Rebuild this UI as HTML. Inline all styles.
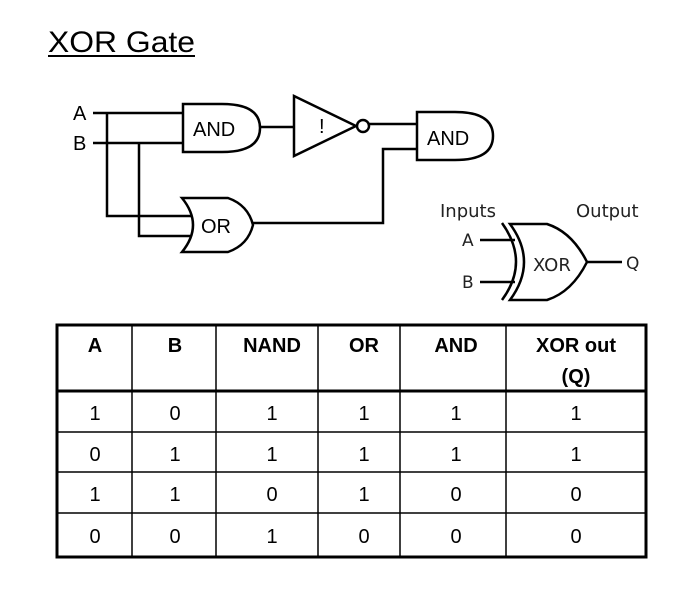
<!DOCTYPE html>
<html><head><style>html,body{margin:0;padding:0;background:#fff}svg{display:block}</style></head>
<body>
<svg width="693" height="596" viewBox="0 0 693 596" xmlns="http://www.w3.org/2000/svg" font-family="Liberation Sans, Arial, sans-serif">
<rect width="693" height="596" fill="#fff"/>
<text x="48" y="52" font-size="30" textLength="147" lengthAdjust="spacingAndGlyphs">XOR Gate</text>
<line x1="48" y1="56" x2="195" y2="56" stroke="#000" stroke-width="2"/>
<g stroke="#000" stroke-width="2.5" fill="none">
<path d="M93 113H184M93 143H184M107 113V216H194M139 143V236H196"/>
<path d="M183 104H222Q260 104 260 128Q260 152 222 152H183Z" fill="#fff"/>
<path d="M260 127H294"/>
<path d="M294 96L356 126L294 156Z" fill="#fff"/>
<circle cx="363" cy="126" r="6" fill="#fff"/>
<path d="M369 124H418M253 223H383V149H418"/>
<path d="M417 112H455Q493 112 493 136Q493 160 455 160H417Z" fill="#fff"/>
<path d="M182 198H228Q248 205 253 225Q248 245 228 252H182Q204 225 182 198Z" fill="#fff"/>
<path d="M480 240H515M480 282H515M587 262H622"/>
<path d="M502 223Q530 262 502 300"/>
<path d="M510 224H547Q572 232 587 262Q572 292 547 300H510Q538 262 510 224Z" fill="#fff"/>
</g>
<g font-size="20">
<text x="73" y="120">A</text>
<text x="73" y="150">B</text>
<text x="193" y="136">AND</text>
<text x="427" y="145">AND</text>
<text x="201" y="233">OR</text>
<text x="319" y="133">!</text>
</g>
<g font-family="DejaVu Sans, sans-serif" fill="#222">
<text x="440" y="217" font-size="18">Inputs</text>
<text x="576" y="217" font-size="18">Output</text>
<text x="462" y="246" font-size="17">A</text>
<text x="462" y="288" font-size="17">B</text>
<text x="533" y="271" font-size="18">XOR</text>
<text x="626" y="269" font-size="17">Q</text>
</g>
<g stroke="#000" fill="none">
<rect x="57" y="325" width="589" height="232" stroke-width="3"/>
<path d="M132 325V557M216 325V557M318 325V557M400 325V557M506 325V557" stroke-width="1.5"/>
<path d="M57 391H646" stroke-width="3"/>
<path d="M57 432H646M57 472H646M57 513H646" stroke-width="1.5"/>
</g>
<g font-size="20" text-anchor="middle">
<g font-weight="bold">
<text x="95" y="352">A</text><text x="175" y="352">B</text><text x="272" y="352">NAND</text>
<text x="364" y="352">OR</text><text x="456" y="352">AND</text><text x="576" y="352">XOR out</text><text x="576" y="383">(Q)</text>
</g>
<text x="95" y="420">1</text><text x="175" y="420">0</text><text x="272" y="420">1</text><text x="364" y="420">1</text><text x="456" y="420">1</text><text x="576" y="420">1</text>
<text x="95" y="461">0</text><text x="175" y="461">1</text><text x="272" y="461">1</text><text x="364" y="461">1</text><text x="456" y="461">1</text><text x="576" y="461">1</text>
<text x="95" y="501">1</text><text x="175" y="501">1</text><text x="272" y="501">0</text><text x="364" y="501">1</text><text x="456" y="501">0</text><text x="576" y="501">0</text>
<text x="95" y="543">0</text><text x="175" y="543">0</text><text x="272" y="543">1</text><text x="364" y="543">0</text><text x="456" y="543">0</text><text x="576" y="543">0</text>
</g>
</svg>
</body></html>
